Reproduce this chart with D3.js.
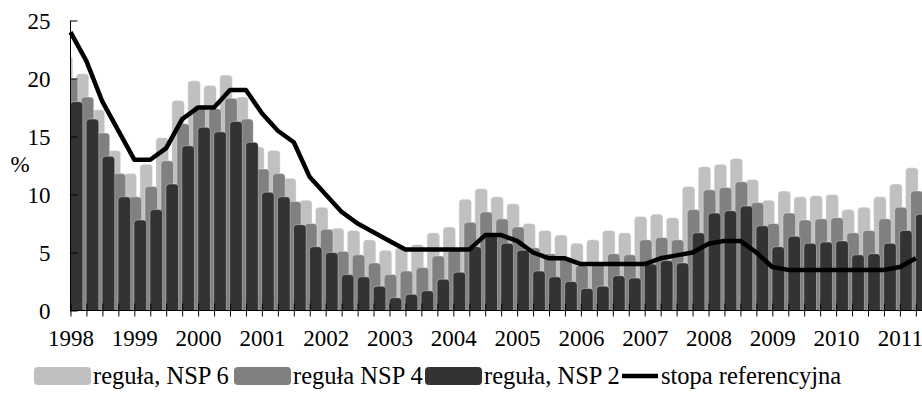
<!DOCTYPE html>
<html>
<head>
<meta charset="utf-8">
<script src="https://cdn.jsdelivr.net/npm/d3@7"></script>
<style>
  body { margin: 0; background: #fff; }
  svg { display: block; }
</style>
</head>
<body>
<div id="chart"></div>
<script>
// quarterly data, 1998Q1 - 2011Q2
const years = [1998, 1999, 2000, 2001, 2002, 2003, 2004, 2005, 2006, 2007, 2008, 2009, 2010, 2011];
const quarters = years.flatMap(y => ["Q1", "Q2", "Q3", "Q4"].map(q => y + q)).slice(0, 54);

const nsp6 = [21.9, 20.4, 17.3, 13.8, 11.8, 12.6, 14.9, 18.1, 19.8, 19.4, 20.3, 18.4,
              14.1, 13.8, 11.4, 9.5, 8.9, 7.1, 6.9, 6.1, 5.2, 5.4, 5.7, 6.7,
              7.2, 9.6, 10.5, 9.8, 9.2, 7.5, 6.9, 6.5, 5.8, 6.1, 6.9, 6.7,
              8.1, 8.3, 8.0, 10.7, 12.4, 12.6, 13.1, 11.3, 9.5, 10.3, 9.8, 9.9,
              10.0, 8.7, 8.9, 9.8, 10.9, 12.3];
const nsp4 = [20.0, 18.4, 15.3, 11.8, 9.8, 10.7, 12.9, 16.1, 17.7, 17.4, 18.3, 16.5,
              12.2, 11.8, 9.4, 7.5, 7.0, 5.1, 4.8, 4.1, 3.1, 3.4, 3.7, 4.7,
              5.2, 7.6, 8.5, 7.9, 7.2, 5.4, 4.9, 4.6, 3.9, 4.1, 4.9, 4.8,
              6.1, 6.3, 6.1, 8.7, 10.4, 10.6, 11.1, 9.3, 7.5, 8.4, 7.8, 7.9,
              8.0, 6.7, 6.9, 7.9, 8.9, 10.3];
const nsp2 = [18.0, 16.5, 13.3, 9.8, 7.8, 8.7, 10.9, 14.2, 15.8, 15.4, 16.3, 14.5,
              10.2, 9.8, 7.4, 5.5, 5.0, 3.1, 2.9, 2.1, 1.1, 1.4, 1.7, 2.7,
              3.3, 5.5, 6.5, 5.8, 5.2, 3.4, 2.9, 2.5, 1.9, 2.1, 3.0, 2.8,
              4.0, 4.3, 4.1, 6.7, 8.4, 8.6, 9.0, 7.3, 5.5, 6.4, 5.8, 5.9,
              6.0, 4.8, 4.9, 5.8, 6.9, 8.3];
const stopa = [24, 21.5, 18, 15.5, 13, 13, 14, 16.5, 17.5, 17.5, 19, 19,
               17, 15.5, 14.5, 11.5, 10, 8.5, 7.5, 6.75, 6, 5.25, 5.25, 5.25,
               5.25, 5.25, 6.5, 6.5, 6, 5, 4.5, 4.5, 4, 4, 4, 4,
               4, 4.5, 4.75, 5, 5.75, 6, 6, 5, 3.75, 3.5, 3.5, 3.5,
               3.5, 3.5, 3.5, 3.5, 3.75, 4.5];
const yTicks = [0, 5, 10, 15, 20, 25];

const series = [
  { key: "nsp6", name: "reguła, NSP 6", color: "#c0c0c0", values: nsp6 },
  { key: "nsp4", name: "reguła NSP 4", color: "#808080", values: nsp4 },
  { key: "nsp2", name: "reguła, NSP 2", color: "#333333", values: nsp2 }
];

const FONT = "'Liberation Serif', 'Times New Roman', Times, 'DejaVu Serif', serif";
const FS = "23px";
const LFS = "24.5px";

const width = 922;
const height = 401;
const margin = { top: 20.5, left: 70.5, bottom: 90.5 };
const step = 15.95;

const x = d3.scalePoint()
  .domain(quarters)
  .range([margin.left, margin.left + step * (quarters.length - 1)]);

const y = d3.scaleLinear()
  .domain([0, 25])
  .range([height - margin.bottom, margin.top]);

const offset = d3.scalePoint()
  .domain(series.map(s => s.key))
  .range([-4, 6]);
const barW = 12.6;

const svg = d3.select("#chart").append("svg")
  .attr("width", width)
  .attr("height", height)
  .style("font-family", FONT);

svg.append("clipPath")
  .attr("id", "plot")
  .append("rect")
  .attr("x", margin.left)
  .attr("y", 0)
  .attr("width", width - margin.left)
  .attr("height", y(0));

const bars = svg.append("g").attr("clip-path", "url(#plot)");

series.forEach(s => {
  bars.selectAll(`.bar-${s.key}`)
    .data(s.values)
    .enter()
    .append("rect")
    .attr("class", `bar-${s.key}`)
    .attr("x", (d, i) => x(quarters[i]) + offset(s.key) - barW / 2)
    .attr("y", d => y(d))
    .attr("width", barW)
    .attr("height", d => y(0) - y(d) + 5)
    .attr("rx", 3.5)
    .attr("fill", s.color)
    .attr("stroke", "rgba(255,255,255,0.45)")
    .attr("stroke-width", 0.8);
});

// axes
const xAxis = svg.append("g")
  .attr("transform", `translate(0,${y(0)})`)
  .call(d3.axisBottom(x)
    .tickSize(6)
    .tickPadding(13)
    .tickFormat(d => d.endsWith("Q1") ? d.slice(0, 4) : ""));
xAxis.attr("font-family", null).attr("font-size", null);
xAxis.select(".domain").attr("d", `M${margin.left},0H${width}`);
xAxis.selectAll(".tick line").attr("y1", -7).attr("stroke", "#000");
xAxis.selectAll("text").style("font-family", FONT).style("font-size", FS);

const yAxis = svg.append("g")
  .attr("transform", `translate(${margin.left},0)`)
  .call(d3.axisLeft(y)
    .tickValues(yTicks)
    .tickSize(7)
    .tickPadding(13));
yAxis.attr("font-family", null).attr("font-size", null);
yAxis.select(".domain").attr("d", `M0,${y(25)}V${y(0)}`);
yAxis.selectAll(".tick line").attr("x2", 7).attr("stroke", "#000");
yAxis.selectAll("text").style("font-family", FONT).style("font-size", FS).attr("dy", "0.36em");

svg.append("text")
  .attr("x", 20)
  .attr("y", 172)
  .attr("text-anchor", "middle")
  .style("font-family", FONT)
  .style("font-size", FS)
  .text("%");

// reference rate line
const line = d3.line()
  .x((d, i) => x(quarters[i]))
  .y(d => y(d));

svg.append("path")
  .datum(stopa)
  .attr("d", line)
  .attr("fill", "none")
  .attr("stroke", "#000")
  .attr("stroke-width", 4.5)
  .attr("stroke-linejoin", "round");

// legend
const legendX = [34, 234, 425, 622];
const legendY = 376;
const legend = svg.append("g");

series.forEach((s, i) => {
  legend.append("rect")
    .attr("x", legendX[i])
    .attr("y", legendY - 9)
    .attr("width", 57)
    .attr("height", 18)
    .attr("rx", 4)
    .attr("fill", s.color);
  legend.append("text")
    .attr("x", legendX[i] + 59)
    .attr("y", legendY + 8)
    .style("font-family", FONT)
    .style("font-size", LFS)
    .text(s.name);
});

legend.append("line")
  .attr("x1", legendX[3])
  .attr("x2", legendX[3] + 36)
  .attr("y1", legendY)
  .attr("y2", legendY)
  .attr("stroke", "#000")
  .attr("stroke-width", 4.5);
legend.append("text")
  .attr("x", legendX[3] + 39)
  .attr("y", legendY + 8)
  .style("font-family", FONT)
  .style("font-size", LFS)
  .text("stopa referencyjna");
</script>
</body>
</html>
